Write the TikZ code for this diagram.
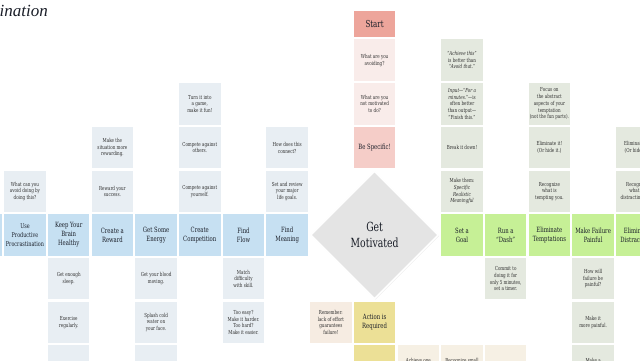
\documentclass[tikz,border=0pt]{standalone}
\usepackage{fontspec}
\setmainfont{DejaVu Serif Condensed}[FakeStretch=0.82]
\newfontfamily\titlefont{Liberation Serif}
\usetikzlibrary{positioning,shapes.geometric,shadows}

\definecolor{cInk}{RGB}{45,45,45}
\definecolor{cHead}{RGB}{26,30,40}
\definecolor{cBlueHead}{RGB}{198,224,242}
\definecolor{cBlueNote}{RGB}{232,238,243}
\definecolor{cGreenHead}{RGB}{198,240,150}
\definecolor{cGreenNote}{RGB}{228,233,223}
\definecolor{cStart}{RGB}{237,165,155}
\definecolor{cPinkHead}{RGB}{245,205,200}
\definecolor{cPinkNote}{RGB}{249,236,234}
\definecolor{cYellow}{RGB}{236,224,150}
\definecolor{cBeige}{RGB}{246,240,228}
\definecolor{cRemember}{RGB}{246,236,226}
\definecolor{cDiamond}{RGB}{228,228,228}

\tikzset{
  tile/.style={rectangle, minimum width=41.5pt, minimum height=41.5pt, inner sep=0.5pt,
    align=center, text=cInk, font=\fontsize{5.5}{6.7}\selectfont},
  head/.style={tile, text=cHead, font=\fontsize{7.2}{9}\selectfont},
  bluehead/.style={head, fill=cBlueHead},
  bluenote/.style={tile, fill=cBlueNote},
  greenhead/.style={head, fill=cGreenHead},
  greennote/.style={tile, fill=cGreenNote},
  pinkhead/.style={head, fill=cPinkHead},
  pinknote/.style={tile, fill=cPinkNote},
  starttile/.style={head, fill=cStart, minimum height=26pt, font=\fontsize{9.6}{11}\selectfont},
  yellowhead/.style={head, fill=cYellow},
  beigenote/.style={tile, fill=cBeige},
  cutline/.style={text=cInk, font=\fontsize{5.5}{6.7}\selectfont, anchor=north, yshift=-10pt},
  motive/.style={diamond, aspect=1, minimum width=128pt, minimum height=128pt, inner sep=0pt,
    fill=cDiamond, draw=white, line width=1.5pt,
    drop shadow={opacity=0.18, shadow xshift=0.8pt, shadow yshift=-0.8pt},
    align=center, text=cHead, font=\fontsize{12.6}{16}\selectfont}
}

\begin{document}
\begin{tikzpicture}[node distance=43.7pt]

            \useasboundingbox (0,0) rectangle (640pt,-360pt);
            \clip (0,0) rectangle (640pt,-360pt);
            \fill[white] (0,0) rectangle (640pt,-360pt);

            \node[anchor=base west, inner sep=0pt, text=cHead, font=\titlefont\itshape\fontsize{17}{17}\selectfont] (title) at (-0.5pt,-16.5pt) {ination};

            % blue branch, left of the diamond
            \node[bluehead, font=\fontsize{6.6}{9}\selectfont] (procr) at (25pt,-235pt) {Use\\Productive\\Procrastination};
            \node[bluehead] (edge) [left of = procr] {};
            \node[bluehead] (brain) [right of = procr] {Keep Your\\Brain\\Healthy};
            \node[bluehead] (reward) [right of = brain] {Create a\\Reward};
            \node[bluehead] (energy) [right of = reward] {Get Some\\Energy};
            \node[bluehead] (compete) [right of = energy] {Create\\Competition};
            \node[bluehead] (flow) [right of = compete] {Find\\Flow};
            \node[bluehead] (meaning) [right of = flow] {Find\\Meaning};

            \node[bluenote] (avoiddoing) [above of = procr] {What can you\\avoid doing by\\doing this?};
            \node[bluenote] (sleep) [below of = brain] {Get enough\\sleep.};
            \node[bluenote] (exercise) [below of = sleep] {Exercise\\regularly.};
            \node[bluenote] (brainmore) [below of = exercise] {};
            \node[bluenote] (success) [above of = reward] {Reward your\\success.};
            \node[bluenote] (rewarding) [above of = success] {Make the\\situation more\\rewarding.};
            \node[bluenote] (blood) [below of = energy] {Get your blood\\moving.};
            \node[bluenote] (splash) [below of = blood] {Splash cold\\water on\\your face.};
            \node[bluenote] (energymore) [below of = splash] {};
            \node[bluenote] (yourself) [above of = compete] {Compete against\\yourself.};
            \node[bluenote] (others) [above of = yourself] {Compete against\\others.};
            \node[bluenote] (game) [above of = others] {Turn it into\\a game,\\make it fun!};
            \node[bluenote] (skill) [below of = flow] {Match\\difficulty\\with skill.};
            \node[bluenote] (tooeasy) [below of = skill] {Too easy?\\Make it harder.\\Too hard?\\Make it easier.};
            \node[bluenote] (lifegoals) [above of = meaning] {Set and review\\your major\\life goals.};
            \node[bluenote] (connect) [above of = lifegoals] {How does this\\connect?};

            % centre column
            \node[motive] (motivate) [right of = meaning, node distance=87.4pt] {Get\\Motivated};
            \node[pinkhead] (specific) [above of = motivate, node distance=87.4pt] {Be Specific!};
            \node[pinknote] (notmotivated) [above of = specific] {What are you\\not motivated\\to do?};
            \node[pinknote] (avoiding) [above of = notmotivated] {What are you\\avoiding?};
            \node[starttile] (start) [above=2.2pt of avoiding] {Start};

            \node[yellowhead] (action) [below of = motivate, node distance=87.4pt] {Action is\\Required};
            \node[yellowhead] (actionmore) [below of = action] {};
            \node[beigenote, fill=cRemember] (remember) [left of = action] {Remember:\\lack of effort\\guarantees\\failure!};
            \node[beigenote, label={[cutline]north:Achieve one}] (achieve) [right of = actionmore] {};
            \node[beigenote, label={[cutline]north:Recognize small}] (recognize) [right of = achieve] {};
            \node[beigenote] (beigemore) [right of = recognize] {};

            % green branch, right of the diamond
            \node[greenhead] (goal) [right of = motivate, node distance=87.4pt] {Set a\\Goal};
            \node[greenhead] (dash) [right of = goal] {Run a\\“Dash”};
            \node[greenhead] (tempt) [right of = dash] {Eliminate\\Temptations};
            \node[greenhead] (painful) [right of = tempt] {Make Failure\\Painful};
            \node[greenhead] (distract) [right of = painful] {Eliminate\\Distractions};

            \node[greennote] (makethem) [above of = goal] {Make them:\\\textit{Specific}\\\textit{Realistic}\\\textit{Meaningful}};
            \node[greennote] (breakdown) [above of = makethem] {Break it down!};
            \node[greennote] (input) [above of = breakdown] {\textit{Input—“For a}\\\textit{minutes.”}—is\\often better\\than output—\\“Finish this.”};
            \node[greennote] (achievethis) [above of = input] {“\textit{Achieve this}”\\is better than\\“\textit{Avoid that.}”};
            \node[greennote] (timer) [below of = dash] {Commit to\\doing it for\\only 5 minutes,\\set a timer.};
            \node[greennote] (tempting) [above of = tempt] {Recognize\\what is\\tempting you.};
            \node[greennote] (hideit) [above of = tempting] {Eliminate it!\\(Or hide it.)};
            \node[greennote] (abstract) [above of = hideit] {Focus on\\the abstract\\aspects of your\\temptation\\(not the fun parts).};
            \node[greennote] (howpainful) [below of = painful] {How will\\failure be\\painful?};
            \node[greennote] (morepainful) [below of = howpainful] {Make it\\more painful.};
            \node[greennote, label={[cutline]north:Make a}] (makea) [below of = morepainful] {};
            \node[greennote] (distracting) [above of = distract] {Recognize\\what is\\distracting you.};
            \node[greennote] (hidedistract) [above of = distracting] {Eliminate it!\\(Or hide it.)};

        \end{tikzpicture}
\end{document}
